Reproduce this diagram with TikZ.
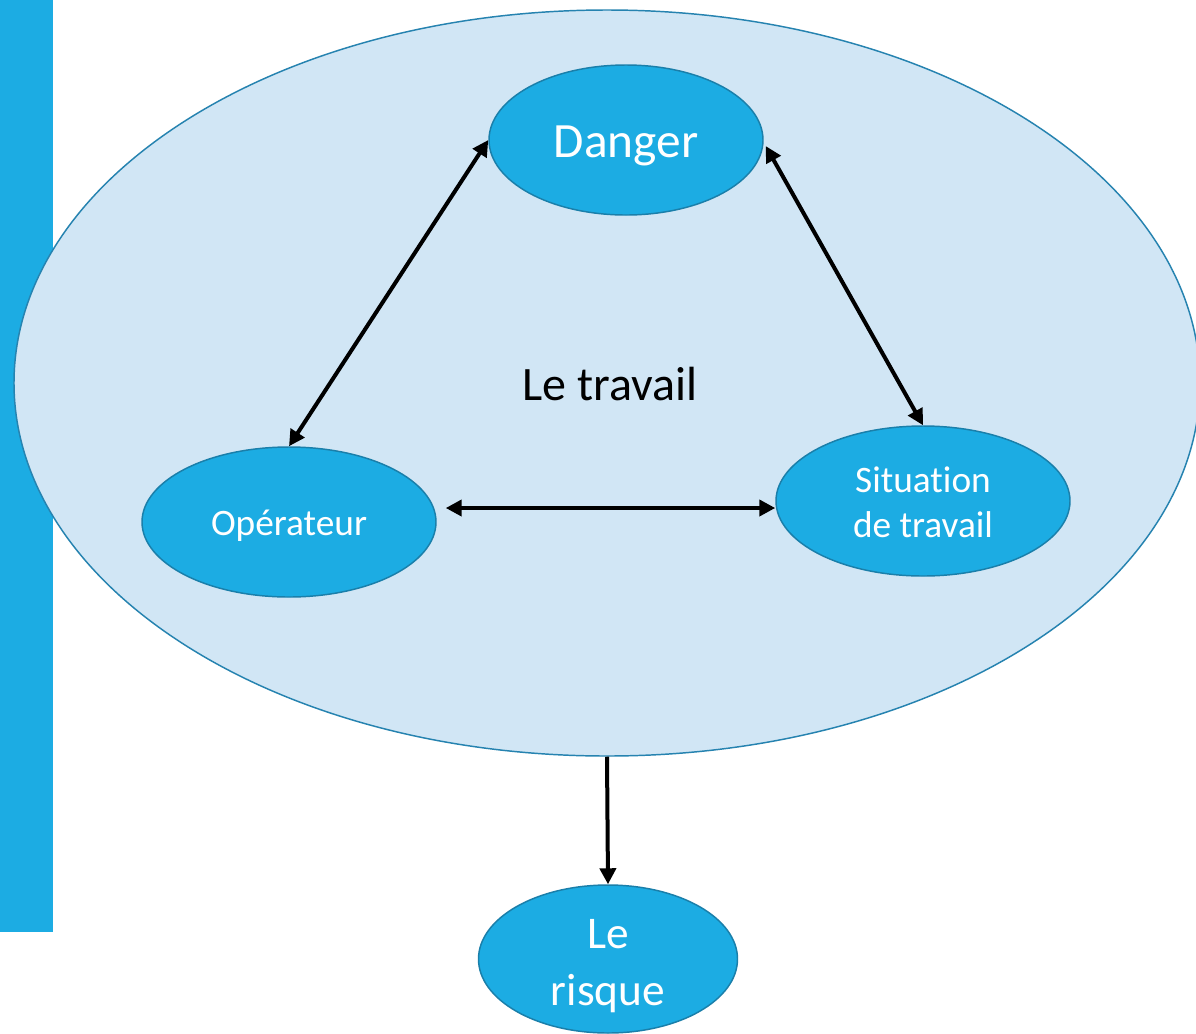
\documentclass[tikz,border=0pt]{standalone}
\usepackage{fontspec}
\setmainfont{Carlito}[Ligatures=NoCommon]
\usetikzlibrary{shapes.geometric,arrows.meta,calc}
\definecolor{barblue}{HTML}{1CACE3}
\definecolor{nodeblue}{HTML}{1CACE3}
\definecolor{nodeedge}{HTML}{1A7FAA}
\definecolor{bigfill}{HTML}{D1E6F5}
\definecolor{bigedge}{HTML}{2683B0}
\begin{document}
\begin{tikzpicture}[x=0.75pt,y=-0.75pt,
  oval/.style={ellipse,draw=nodeedge,fill=nodeblue,line width=1.1pt,inner sep=0pt,
    text=white,align=center},
  conn/.style={line width=3pt,draw=black,-{Triangle[length=12pt,width=12pt]}},
  biconn/.style={line width=3pt,draw=black,{Triangle[length=12pt,width=12pt]}-{Triangle[length=12pt,width=12pt]}}]
\useasboundingbox (0,0) rectangle (1196,1033);
\fill[white] (0,0) rectangle (1196,1033);
\fill[barblue] (0,0) rectangle (53,932);
\node[ellipse,draw=bigedge,fill=bigfill,line width=1.1pt,inner sep=0pt,
  minimum width=1186*0.75pt,minimum height=746*0.75pt] (big) at (607,383) {};
\node[font=\fontsize{36}{40}\selectfont] (trav) at (610,384) {Le travail};
\node[oval,minimum width=274*0.75pt,minimum height=150*0.75pt,
  font=\fontsize{37}{40}\selectfont] (dan) at (626,140) {\raisebox{-12.75pt}[0pt][0pt]{Danger}};
\node[oval,minimum width=294*0.75pt,minimum height=150*0.75pt,
  font=\fontsize{28}{34}\selectfont] (op) at (289,522) {\raisebox{-9.75pt}[0pt][0pt]{Opérateur}};
\node[oval,minimum width=294*0.75pt,minimum height=150*0.75pt,
  font=\fontsize{28}{33.75}\selectfont] (sit) at (923,501) {\raisebox{-27pt}[0pt][0pt]{\begin{tabular}[b]{@{}c@{}}Situation\\de travail\end{tabular}}};
\node[oval,minimum width=259*0.75pt,minimum height=148*0.75pt,
  font=\fontsize{34}{42.75}\selectfont] (risk) at (608,959) {\raisebox{-34.5pt}[0pt][0pt]{\begin{tabular}[b]{@{}c@{}}Le\\risque\end{tabular}}};
\draw[biconn] (dan.west) -- (op.north);
\draw[biconn] ($(dan.east)+(2,6)$) -- (sit.north);
\draw[biconn] ($(op.east)+(9,-14)$) -- ($(sit.west)+(0,7)$);
\draw[conn] (big.south) -- (risk.north);
\end{tikzpicture}
\end{document}
